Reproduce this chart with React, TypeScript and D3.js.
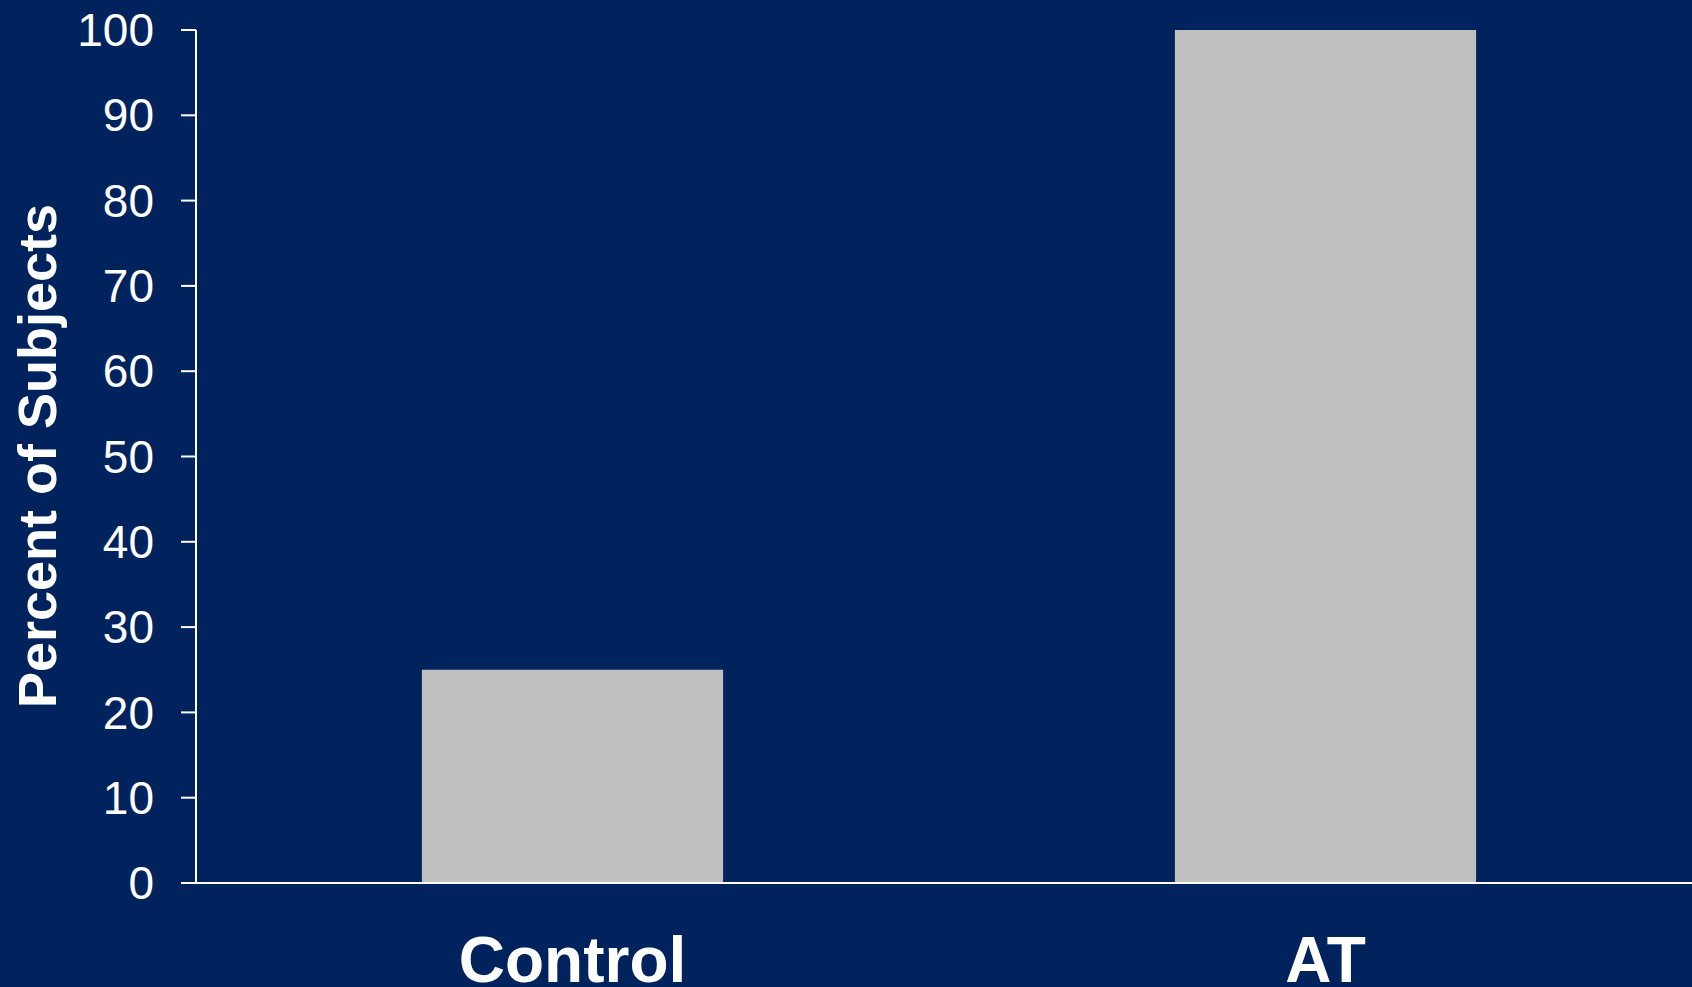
import React from "react";
import * as d3 from "d3";

const categories = ["Control", "AT"];
const values = [25, 100];
const yTicks = [0, 10, 20, 30, 40, 50, 60, 70, 80, 90, 100];
const yTitle = "Percent of Subjects";

const W = 1692;
const H = 987;
const BG = "#00235E";
const BAR = "#C0C0C0";
const FONT = "'Liberation Sans', Arial, Helvetica, sans-serif";

export default function App() {
  const x = d3.scaleBand<string>().domain(categories).range([196, 1702]).paddingInner(0.6).paddingOuter(0.3);
  const y = d3.scaleLinear().domain([0, 100]).range([883, 30]);

  return (
    <svg
      width={W}
      height={H}
      style={{ position: "absolute", left: 0, top: 0, display: "block" }}
      fontFamily={FONT}
    >
      <rect x={0} y={0} width={W} height={H} fill={BG} />
      {categories.map((c, i) => (
        <rect
          key={c}
          x={x(c)}
          y={y(values[i])}
          width={x.bandwidth()}
          height={y(0) - y(values[i])}
          fill={BAR}
        />
      ))}
      {/* y axis */}
      <line x1={196} x2={196} y1={y(100)} y2={y(0)} stroke="#FFFFFF" strokeWidth={2} />
      {yTicks.map((t) => (
        <g key={t}>
          <line x1={181} x2={196} y1={y(t)} y2={y(t)} stroke="#FFFFFF" strokeWidth={2} />
          <text
            x={154}
            y={y(t)}
            dy="0.35em"
            textAnchor="end"
            fill="#FFFFFF"
            fontSize={46}
          >
            {t}
          </text>
        </g>
      ))}
      {/* x axis */}
      <line x1={181} x2={W} y1={y(0)} y2={y(0)} stroke="#FFFFFF" strokeWidth={2} />
      {categories.map((c) => (
        <text
          key={c}
          x={(x(c) as number) + x.bandwidth() / 2}
          y={982}
          textAnchor="middle"
          fill="#FFFFFF"
          fontWeight="bold"
          fontSize={64}
        >
          {c}
        </text>
      ))}
      <text
        transform={`translate(56, 456) rotate(-90)`}
        textAnchor="middle"
        fill="#FFFFFF"
        fontWeight="bold"
        fontSize={54}
      >
        {yTitle}
      </text>
    </svg>
  );
}
